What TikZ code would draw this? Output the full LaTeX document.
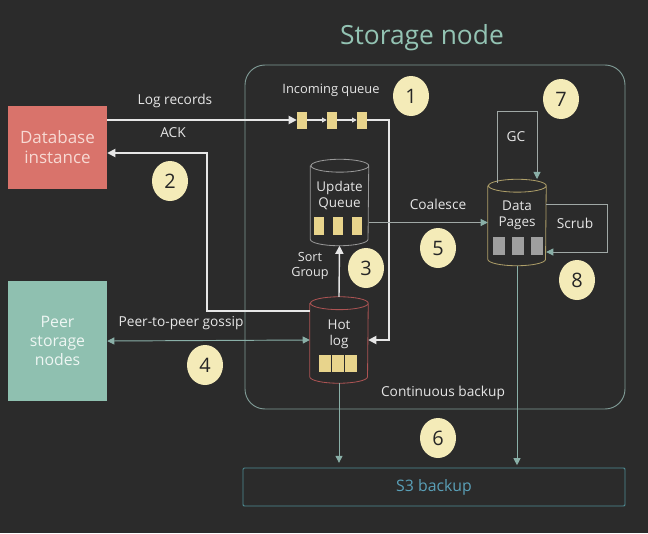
\documentclass[tikz,border=0pt]{standalone}
\usepackage{fontspec}
\setmainfont{Open Sans}
\usepackage{tikz}
\usetikzlibrary{positioning,shapes.geometric,arrows.meta}

\definecolor{bg}{HTML}{2B2B2B}
\definecolor{titlecol}{HTML}{93C3B3}
\definecolor{framecol}{HTML}{7F9A95}
\definecolor{dbfill}{HTML}{D9736B}
\definecolor{dbtext}{HTML}{F7D9D3}
\definecolor{peerfill}{HTML}{8FC0B0}
\definecolor{peertext}{HTML}{EEF6F3}
\definecolor{badgefill}{HTML}{F4EBB8}
\definecolor{qyellow}{HTML}{E8D48C}
\definecolor{wcol}{HTML}{E6E6E6}
\definecolor{tcol}{HTML}{8AB0A8}
\definecolor{gcol}{HTML}{A0A8A6}
\definecolor{s3col}{HTML}{4F8E96}
\definecolor{s3text}{HTML}{5AA0B8}

\tikzset{
	box/.style={rectangle,minimum width=2.97cm},
	badge/.style={ellipse,fill=badgefill,minimum width=1.08cm,minimum height=1.2cm,
		inner sep=0pt,font=\fontsize{17}{17}\selectfont,text=black!85},
	lbl/.style={text=wcol,font=\fontsize{11.7}{13.5}\selectfont,align=center},
	cyl/.style={rectangle,minimum width=1.74cm,minimum height=2.58cm,inner sep=0pt},
	cyltext/.style={text=wcol,font=\fontsize{11.5}{13.5}\selectfont,align=center},
	qbox/.style={rectangle,fill=qyellow,inner sep=0pt,minimum width=0.3cm,minimum height=0.51cm},
	wline/.style={draw=wcol,line width=1.5pt,-{Triangle[length=7pt,width=7pt]}},
	tline/.style={draw=tcol,line width=0.8pt,-{Triangle[length=6pt,width=6pt]}},
	gline/.style={draw=gcol,line width=0.8pt,-{Triangle[length=6pt,width=6pt,color=tcol]}}
}

% outline of a standing cylinder round a named node
\newcommand\drawcyl[2]{%
	\draw[#2,line width=0.7pt]
	([yshift=-5.5pt]#1.north west) -- ([yshift=5.5pt]#1.south west)
	arc[start angle=180,end angle=360,x radius=24.65pt,y radius=5.5pt]
	-- ([yshift=-5.5pt]#1.north east)
	arc[start angle=0,end angle=360,x radius=24.65pt,y radius=5.5pt];
}

\begin{document}
\begin{tikzpicture}[x=0.03cm,y=-0.03cm]
	\fill[bg] (0,0) rectangle (648,533);

	\node[text=titlecol,font=\fontsize{22.5}{26}\selectfont] (title) at (422,38) {Storage node};
	\draw[framecol,line width=0.8pt,rounded corners=17pt] (245,65) rectangle (625,409);

	\node[box,fill=dbfill,text=dbtext,minimum height=2.49cm,align=center,
		font=\fontsize{14.5}{17}\selectfont] (db) at (57.5,147.5) {Database\\instance};
	\node[box,fill=peerfill,text=peertext,minimum height=3.6cm,align=center,
		font=\fontsize{13.5}{16}\selectfont] (peer) at (57.5,341) {Peer\\storage\\nodes};

	% incoming queue
	\node[qbox] (q_1) at (302,120) {};
	\node[qbox] (q_2) [right=0.9cm of q_1.center,anchor=center] {};
	\node[qbox] (q_3) [right=0.9cm of q_2.center,anchor=center] {};
	\node[lbl,font=\fontsize{11}{13}\selectfont] (l_in) at (331,90) {Incoming queue};

	% cylinders
	\node[cyl] (uq) at (339.5,202.5) {};
	\drawcyl{uq}{gray!80}
	\node[cyltext,below=15.5pt of uq.north] (uq_t) {Update\\Queue};
	\node[qbox,minimum height=0.54cm] (uq_2) at (338,226) {};
	\node[qbox,minimum height=0.54cm] (uq_1) [left=0.56cm of uq_2.center,anchor=center] {};
	\node[qbox,minimum height=0.54cm] (uq_3) [right=0.56cm of uq_2.center,anchor=center] {};

	\node[cyl] (hot) at (339,340) {};
	\drawcyl{hot}{red!35!gray}
	\node[cyltext,below=16.5pt of hot.north] (hot_t) {Hot\\log};
	\node[qbox,minimum width=0.36cm] (hot_2) at (337.5,363) {};
	\node[qbox,minimum width=0.36cm] (hot_1) [left=0.39cm of hot_2.center,anchor=center] {};
	\node[qbox,minimum width=0.36cm] (hot_3) [right=0.39cm of hot_2.center,anchor=center] {};

	\node[cyl] (dp) at (517,222.5) {};
	\drawcyl{dp}{qyellow!75!black}
	\node[cyltext,below=15pt of dp.north] (dp_t) {Data\\Pages};
	\node[qbox,fill=gray!75,minimum width=0.36cm,minimum height=0.54cm] (dp_2) at (517.5,246) {};
	\node[qbox,fill=gray!75,minimum width=0.36cm,minimum height=0.54cm] (dp_1) [left=0.57cm of dp_2.center,anchor=center] {};
	\node[qbox,fill=gray!75,minimum width=0.36cm,minimum height=0.54cm] (dp_3) [right=0.57cm of dp_2.center,anchor=center] {};

	\node[rectangle,draw=s3col,line width=0.8pt,minimum width=11.46cm,minimum height=1.14cm,
		text=s3text,font=\fontsize{13.5}{16}\selectfont,rounded corners=1pt] (s3) at (434,487) {S3 backup};

	% badges
	\node[badge] (b_1) at (411,96) {1};
	\node[badge] (b_2) at (170,181) {2};
	\node[badge] (b_3) at (366,268) {3};
	\node[badge] (b_4) at (205,365) {4};
	\node[badge] (b_5) at (438,248) {5};
	\node[badge] (b_6) at (438,438) {6};
	\node[badge] (b_7) at (561,99) {7};
	\node[badge] (b_8) at (577,280) {8};

	% labels
	\node[lbl] (l_log) at (175,101) {Log records};
	\node[lbl] (l_ack) at (173,133) {ACK};
	\node[lbl,font=\fontsize{10.8}{12.8}\selectfont] (l_sort) at (310,266) {Sort\\Group};
	\node[lbl] (l_coal) at (438,204) {Coalesce};
	\node[lbl] (l_gc) at (516,137) {GC};
	\node[lbl] (l_scrub) at (575,223) {Scrub};
	\node[lbl] (l_gossip) at (181,323) {Peer-to-peer gossip};
	\node[lbl] (l_cont) at (443,393) {Continuous backup};

	\coordinate (in_turn) at (389,120);
	\coordinate (ack_turn) at (207,311);
	\coordinate (gc_l) at (497,111);
	\coordinate (gc_r) at (537,111);
	\coordinate (scrub_t) at (607,204);
	\coordinate (scrub_b) at (607,252);

	\path[wline,line width=1pt,-{Triangle[length=4pt,width=4pt]}]
	(q_1) edge (q_2)
	(q_2) edge (q_3);

	\draw[wline] (db.east |- q_1) -- (q_1);
	\draw[wline] (q_3.east) -- (in_turn) |- (hot.east);
	\draw[wline] (hot.west |- ack_turn) -- (ack_turn) |- (db.east |- 0,153);
	\draw[wline,line width=1.2pt] (hot.north) -- (uq.south);

	\draw[gline] (uq.east |- dp.west) -- (dp.west);
	\draw[gline] (gc_l |- 0,183) -- (gc_l) -- (gc_r) -- (gc_r |- 0,179);
	\draw[gline] (dp.east |- scrub_t) -- (scrub_t) -- (scrub_b) -- (dp.east |- scrub_b);

	\draw[tline,{Triangle[length=6pt,width=6pt]}-{Triangle[length=6pt,width=6pt]}] (peer.east) -- (hot.west);
	\draw[tline,shorten >=4pt] (hot.south) -- (hot.south |- s3.north);
	\draw[tline,shorten >=2pt] (dp.south) -- (dp.south |- s3.north);
\end{tikzpicture}
\end{document}
